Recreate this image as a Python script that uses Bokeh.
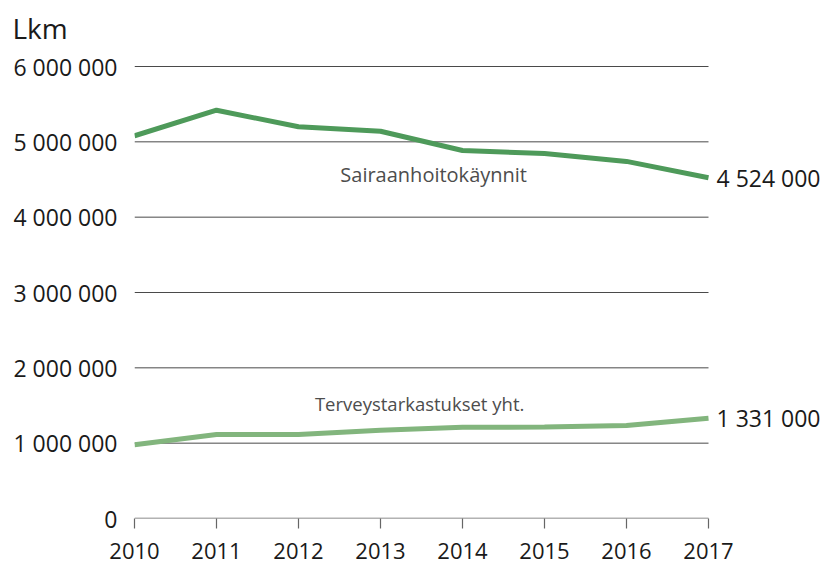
from bokeh.plotting import figure
from bokeh.models import Label, FixedTicker, Range1d
from bokeh.embed import file_html
from bokeh.resources import INLINE

years = [2010, 2011, 2012, 2013, 2014, 2015, 2016, 2017]
sairaanhoito = [5080000, 5420000, 5200000, 5140000, 4885000, 4845000, 4740000, 4524000]
terveys = [980000, 1115000, 1115000, 1170000, 1210000, 1215000, 1235000, 1331000]
y_ticks = [0, 1000000, 2000000, 3000000, 4000000, 5000000, 6000000]
y_tick_labels = ["0", "1 000 000", "2 000 000", "3 000 000", "4 000 000", "5 000 000", "6 000 000"]
series_names = ["Sairaanhoitokäynnit", "Terveystarkastukset yht."]

FONT = "Open Sans"

def fmt(v):
    return f"{v:,}".replace(",", " ")

FRAME_TOP = 48
# frame: left 134 .. right 828 ; top FRAME_TOP .. bottom 518
px_per_year = (708 - 134) / (years[-1] - years[0])
x_end = years[-1] + (828 - 708) / px_per_year
px_per_unit = (518 - 66) / y_ticks[-1]
y_end = y_ticks[-1] + (66 - FRAME_TOP) / px_per_unit

p = figure(width=828, height=564, output_backend="svg", toolbar_location=None,
           x_range=Range1d(years[0], x_end), y_range=Range1d(0, y_end),
           min_border_left=134, min_border_right=0, min_border_top=FRAME_TOP,
           min_border_bottom=46)
p.outline_line_color = None
p.background_fill_color = None
p.border_fill_color = "white"

p.title.text = "Lkm"
p.title.text_font = FONT
p.title.text_font_size = "28px"
p.title.text_font_style = "normal"
p.title.text_color = "#1a1a1a"
p.title.align = "left"
p.title.vertical_align = "top"
p.title.offset = -122
p.title.standoff = 0

p.xgrid.grid_line_color = None
p.ygrid.grid_line_color = None

p.yaxis.ticker = FixedTicker(ticks=y_ticks)
p.yaxis.major_label_overrides = {t: l for t, l in zip(y_ticks, y_tick_labels)}
p.yaxis.axis_line_color = None
p.yaxis.major_tick_line_color = None
p.yaxis.minor_tick_line_color = None
p.yaxis.major_label_standoff = 11
p.yaxis.major_label_text_font = FONT
p.yaxis.major_label_text_font_size = "23px"
p.yaxis.major_label_text_color = "#1a1a1a"

p.xaxis.ticker = FixedTicker(ticks=years)
p.xaxis.axis_line_color = None
p.xaxis.major_tick_line_color = "#666666"
p.xaxis.major_tick_line_width = 1.2
p.xaxis.major_tick_in = 0
p.xaxis.major_tick_out = 10
p.xaxis.minor_tick_line_color = None
p.xaxis.major_label_standoff = 14
p.xaxis.major_label_text_font = FONT
p.xaxis.major_label_text_font_size = "22px"
p.xaxis.major_label_text_color = "#1a1a1a"

# horizontal grid lines and baseline, spanning the years
p.segment(x0=[years[0]] * (len(y_ticks) - 1), x1=[years[-1]] * (len(y_ticks) - 1),
          y0=y_ticks[1:], y1=y_ticks[1:], line_color="#4a4a4a", line_width=1)
p.segment(x0=[years[0]], x1=[years[-1]], y0=[y_ticks[0]], y1=[y_ticks[0]],
          line_color="#666666", line_width=1.5)

dark = "#4e9a5a"
light = "#82b57d"
p.line(years, sairaanhoito, line_color=dark, line_width=5)
p.line(years, terveys, line_color=light, line_width=5)

for ys in (sairaanhoito, terveys):
    p.add_layout(Label(x=years[-1], y=ys[-1], text=fmt(ys[-1]), x_offset=8,
                       text_baseline="middle", text_align="left",
                       text_font=FONT, text_font_size="23px", text_color="#1a1a1a"))

p.add_layout(Label(x=2012.51, y=4560000, text=series_names[0], text_baseline="middle",
                   text_font=FONT, text_font_size="20px", text_color="#4d4d4d"))
p.add_layout(Label(x=2012.2, y=1520000, text=series_names[1], text_baseline="middle",
                   text_font=FONT, text_font_size="18.5px", text_color="#4d4d4d"))

open("out.html", "w").write(file_html(p, INLINE))
